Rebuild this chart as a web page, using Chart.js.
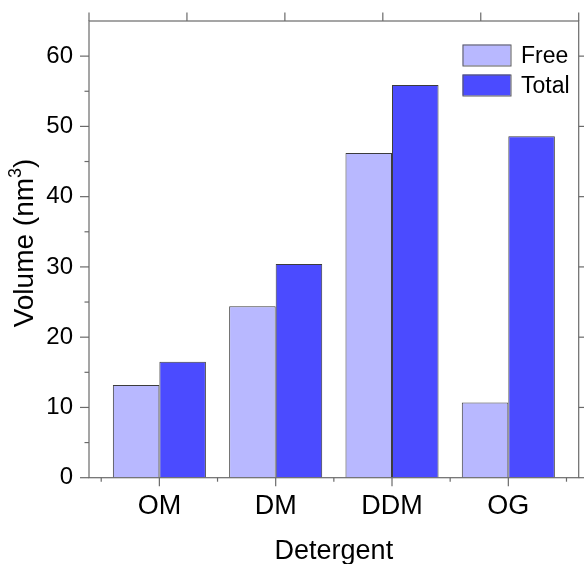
<!DOCTYPE html>
<html>
<head>
<meta charset="utf-8">
<script src="https://cdn.jsdelivr.net/npm/chart.js@4/dist/chart.umd.min.js"></script>
<style>
  html, body { margin: 0; padding: 0; background: #ffffff; }
  canvas { display: block; }
</style>
</head>
<body>
<canvas id="chart" width="584" height="564"></canvas>
<script>
// Micelle volumes per detergent
const categories = ['OM', 'DM', 'DDM', 'OG'];
const freeVolume = [13.2, 24.4, 46.2, 10.7];
const totalVolume = [16.5, 30.4, 55.9, 48.6];
const seriesNames = ['Free', 'Total'];
const yTickValues = [0, 10, 20, 30, 40, 50, 60];

const FONT = '"Liberation Sans", Arial, sans-serif';
const AXIS_COLOR = '#6a6a6a';

const toPoints = vals => vals.map((v, i) => ({ x: i, y: v }));

// Frame, tick marks, y-axis title and in-plot legend
const framePlugin = {
  id: 'frame',
  afterDraw(chart) {
    const { ctx, chartArea: a, scales } = chart;
    const xs = scales.x, ys = scales.y;
    ctx.save();
    ctx.strokeStyle = AXIS_COLOR;
    ctx.lineWidth = 1.2;
    const line = (x1, y1, x2, y2) => {
      ctx.beginPath(); ctx.moveTo(x1, y1); ctx.lineTo(x2, y2); ctx.stroke();
    };
    // box
    ctx.strokeRect(a.left, a.top, a.right - a.left, a.bottom - a.top);

    // left axis: major and minor ticks, outward; right axis: major only
    yTickValues.forEach(v => {
      const y = ys.getPixelForValue(v);
      line(a.left - 9, y, a.left, y);
      line(a.right, y, a.right + 7, y);
      const ym = ys.getPixelForValue(v + 5);
      if (v + 5 < ys.max) line(a.left - 4.5, ym, a.left, ym);
    });

    // bottom axis: major ticks at categories, minor between
    categories.forEach((c, i) => {
      const x = xs.getPixelForValue(i);
      line(x, a.bottom, x, a.bottom + 8.5);
    });
    for (let i = -0.5; i <= categories.length - 0.5; i += 1) {
      const x = xs.getPixelForValue(i);
      line(x, a.bottom, x, a.bottom + 4);
    }

    // top axis ticks, five equal intervals
    for (let k = 0; k <= 5; k++) {
      const x = a.left + (a.right - a.left) * k / 5;
      line(x, a.top - 8.5, x, a.top);
    }

    // y-axis title with superscript unit
    const mainFont = '28px ' + FONT, supFont = '18px ' + FONT;
    const t1 = 'Volume (nm', t2 = '3', t3 = ')';
    ctx.font = mainFont;
    const w1 = ctx.measureText(t1).width, w3 = ctx.measureText(t3).width;
    ctx.font = supFont;
    const w2 = ctx.measureText(t2).width;
    const total = w1 + w2 + w3;
    ctx.save();
    ctx.translate(33, 243);
    ctx.rotate(-Math.PI / 2);
    ctx.fillStyle = '#000';
    ctx.textBaseline = 'alphabetic';
    ctx.textAlign = 'left';
    let px = -total / 2;
    ctx.font = mainFont; ctx.fillText(t1, px, 0); px += w1;
    ctx.font = supFont; ctx.fillText(t2, px, -12.5); px += w2;
    ctx.font = mainFont; ctx.fillText(t3, px, 0);
    ctx.restore();

    // legend
    const boxX = 462.5, boxW = 48, boxH = 21, rowY = [44.5, 74.5];
    ctx.font = '23px ' + FONT;
    ctx.textBaseline = 'middle';
    ctx.textAlign = 'left';
    chart.data.datasets.forEach((ds, i) => {
      const y = rowY[i];
      ctx.fillStyle = ds.backgroundColor;
      ctx.fillRect(boxX, y, boxW, boxH);
      ctx.strokeStyle = '#5a5a5a';
      ctx.lineWidth = 1;
      ctx.strokeRect(boxX + 0.5, y + 0.5, boxW, boxH);
      ctx.fillStyle = '#000';
      ctx.fillText(ds.label, 521, y + boxH / 2 + 1.5);
    });
    ctx.restore();
  }
};

new Chart(document.getElementById('chart'), {
  type: 'bar',
  data: {
    datasets: [
      {
        label: seriesNames[0],
        data: toPoints(freeVolume),
        backgroundColor: '#b8b8ff',
        borderColor: '#3c3c3c',
        borderWidth: 1
      },
      {
        label: seriesNames[1],
        data: toPoints(totalVolume),
        backgroundColor: '#4b4bff',
        borderColor: '#3c3c3c',
        borderWidth: 1
      }
    ]
  },
  options: {
    responsive: false,
    animation: false,
    devicePixelRatio: 1,
    layout: { padding: { top: 21, right: 5.3, left: 0, bottom: 0 } },
    datasets: { bar: { categoryPercentage: 0.8, barPercentage: 1.0 } },
    plugins: { legend: { display: false }, tooltip: { enabled: false } },
    scales: {
      x: {
        type: 'linear',
        offset: false,
        min: -0.605,
        max: categories.length - 1 + 0.605,
        grid: { display: false, drawTicks: false },
        border: { display: false },
        afterBuildTicks: s => { s.ticks = categories.map((c, i) => ({ value: i })); },
        afterFit: s => { s.height = 564 - 477.7; s.paddingLeft = 0; s.paddingRight = 0; },
        ticks: {
          autoSkip: false,
          maxRotation: 0,
          padding: 13,
          color: '#000',
          font: { family: FONT, size: 27 },
          callback: v => categories[v]
        },
        title: {
          display: true,
          text: 'Detergent',
          color: '#000',
          font: { family: FONT, size: 27, lineHeight: 0.95 },
          padding: { top: 0, bottom: 0 }
        }
      },
      y: {
        min: 0,
        max: 65,
        grid: { display: false, drawTicks: false },
        border: { display: false },
        afterFit: s => { s.width = 89; s.paddingTop = 0; s.paddingBottom = 0; },
        ticks: {
          stepSize: 10,
          includeBounds: false,
          padding: 16,
          color: '#000',
          font: { family: FONT, size: 24 }
        }
      }
    }
  },
  plugins: [framePlugin]
});
</script>
</body>
</html>
